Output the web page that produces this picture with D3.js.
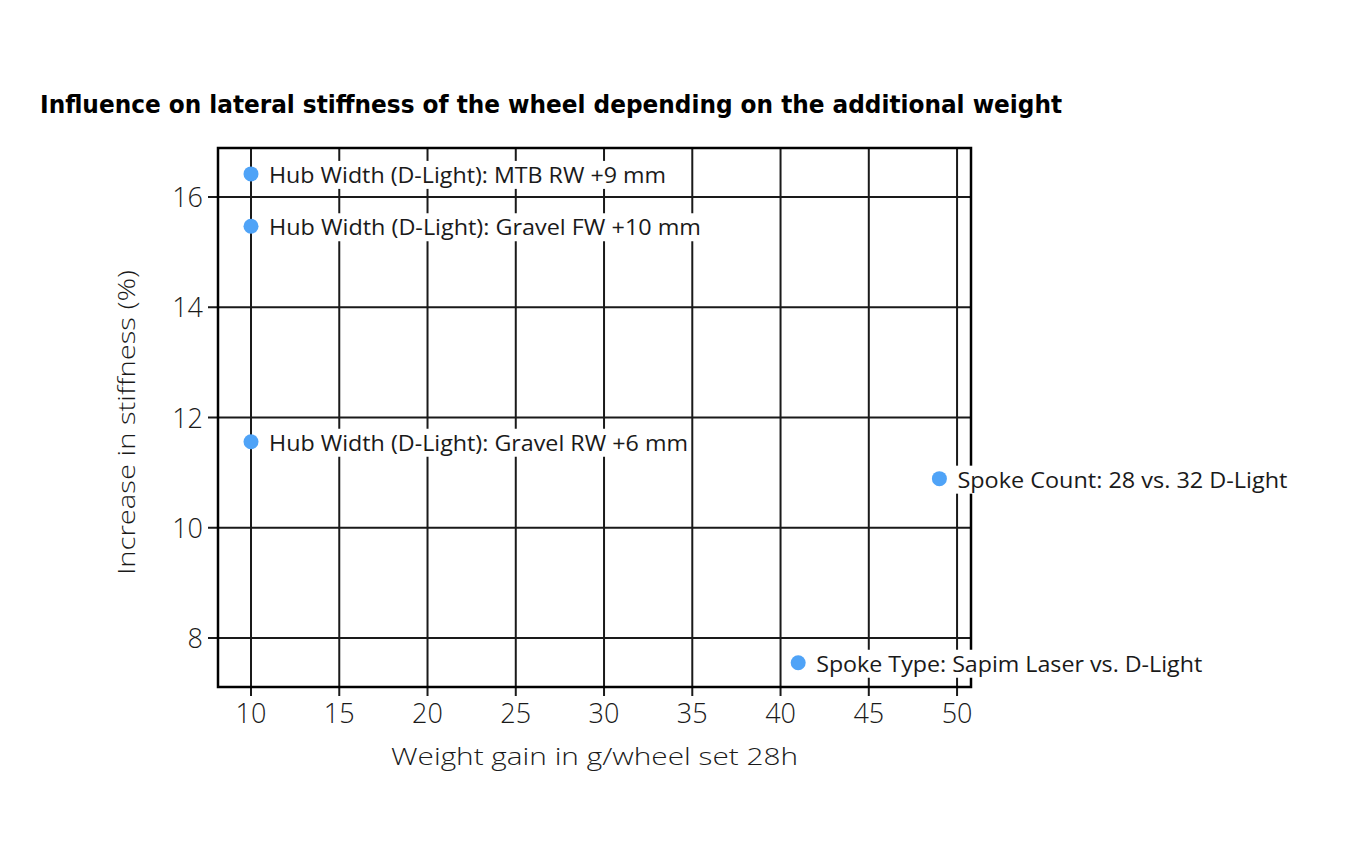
<!DOCTYPE html>
<html><head><meta charset="utf-8">
<script src="https://cdn.jsdelivr.net/npm/d3@7"></script>
<style>body{margin:0;background:#fff;}</style>
</head><body>
<svg id="chart" width="1361" height="859"></svg>
<script>
const labels = ["Hub Width (D-Light): MTB RW +9 mm","Hub Width (D-Light): Gravel FW +10 mm","Hub Width (D-Light): Gravel RW +6 mm","Spoke Count: 28 vs. 32 D-Light","Spoke Type: Sapim Laser vs. D-Light"];
const xValues = [10, 10, 10, 49, 41];
const yValues = [16.42, 15.47, 11.56, 10.89, 7.55];
const xTicks = [10,15,20,25,30,35,40,45,50];
const yTicks = [8,10,12,14,16];
const title = "Influence on lateral stiffness of the wheel depending on the additional weight";
const xTitle = "Weight gain in g/wheel set 28h";
const yTitle = "Increase in stiffness (%)";

const labelWidths = [397, 432, 419, 330, 386];

const svg = d3.select("#chart");
const L=218,R=971,T=148,B=687;
const x = d3.scaleLinear().domain([8.13,50.79]).range([L,R]);
const y = d3.scaleLinear().domain([7.11,16.89]).range([B,T]);
const font = "Open Sans, sans-serif";
const ink = "#1a1a1a";

svg.append("text").attr("x",40).attr("y",113).text(title)
  .attr("font-family","DejaVu Sans Condensed, DejaVu Sans").attr("font-weight","bold").attr("font-size",24)
  .attr("textLength",1022).attr("lengthAdjust","spacingAndGlyphs").attr("fill","#000");

// grid
const g = svg.append("g");
g.selectAll(".vx").data(xTicks).join("line").attr("x1",d=>x(d)).attr("x2",d=>x(d)).attr("y1",T).attr("y2",B+9)
  .attr("stroke",ink).attr("stroke-width",2);
g.selectAll(".hy").data(yTicks).join("line").attr("y1",d=>y(d)).attr("y2",d=>y(d)).attr("x1",L-10).attr("x2",R)
  .attr("stroke",ink).attr("stroke-width",2);
g.append("rect").attr("x",L).attr("y",T).attr("width",R-L).attr("height",B-T).attr("fill","none").attr("stroke","#000").attr("stroke-width",2.5);

// tick labels
svg.selectAll(".xt").data(xTicks).join("text").attr("x",d=>x(d)).attr("y",723).attr("text-anchor","middle")
  .attr("font-family",font).attr("font-size",27).attr("fill",ink).attr("font-weight",300).text(d=>d);
svg.selectAll(".yt").data(yTicks).join("text").attr("x",203).attr("y",d=>y(d)+10).attr("text-anchor","end")
  .attr("font-family",font).attr("font-size",27).attr("fill",ink).attr("font-weight",300).text(d=>d);

svg.append("text").attr("x",391).attr("y",765).attr("font-family",font).attr("font-weight",300)
  .attr("font-size",24).attr("fill",ink).attr("textLength",407).attr("lengthAdjust","spacingAndGlyphs").text(xTitle);
svg.append("text").attr("transform","translate(135,575) rotate(-90)").attr("font-family",font).attr("font-weight",300)
  .attr("font-size",24).attr("fill",ink).attr("textLength",305).attr("lengthAdjust","spacingAndGlyphs").text(yTitle);

// points + labels
const data = labels.map((l,i)=>({l,x:xValues[i],y:yValues[i],w:labelWidths[i]}));
const pg = svg.selectAll(".pt").data(data).join("g");
pg.each(function(d){
  const s = d3.select(this);
  const t = s.append("text").attr("x",x(d.x)+18).attr("y",y(d.y)+9).attr("font-family",font).attr("font-size",22)
    .attr("fill",ink).attr("textLength",d.w).attr("lengthAdjust","spacingAndGlyphs").text(d.l);
  const bb = t.node().getBBox();
  s.insert("rect","text").attr("x",x(d.x)+16).attr("y",bb.y+2).attr("width",d.w+4).attr("height",bb.height-2).attr("fill","#fff");
  s.append("circle").attr("cx",x(d.x)).attr("cy",y(d.y)).attr("r",7.5).attr("fill","#4fa3f7");
});
</script>
</body></html>
